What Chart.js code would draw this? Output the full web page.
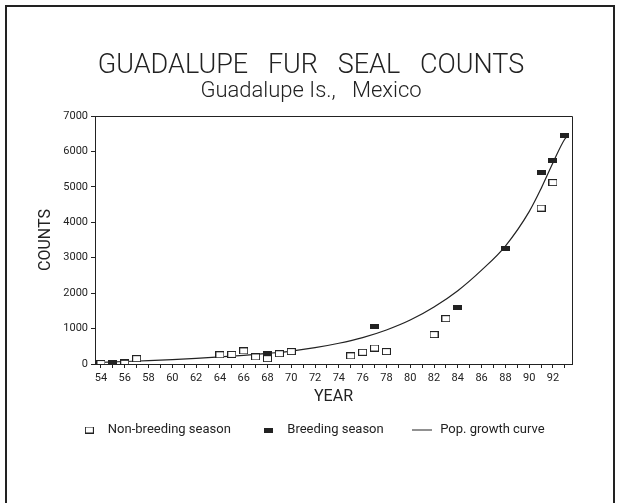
<!DOCTYPE html>
<html>
<head>
<meta charset="utf-8">
<script src="https://cdn.jsdelivr.net/npm/chart.js@4"></script>
<style>
  html, body { margin: 0; padding: 0; background: #fff; overflow: hidden; }
  #wrap { position: relative; width: 620px; height: 503px; }
  #frame { position: absolute; left: 5px; top: 5px; width: 606px; height: 520px; border: 2px solid #222; pointer-events: none; }
  canvas { position: absolute; left: 0; top: 0; }
</style>
</head>
<body>
<div id="wrap">
  <canvas id="sealChart" width="620" height="503"></canvas>
  <div id="frame"></div>
</div>
<script>
// counts
const nonBreedingYears = [54, 56, 57, 64, 65, 66, 67, 68, 69, 70, 75, 76, 77, 78, 82, 83, 91, 92];
const nonBreedingCounts = [14, 20, 150, 260, 270, 370, 200, 150, 290, 350, 230, 330, 450, 350, 830, 1280, 4400, 5120];
const breedingYears = [55, 56, 68, 77, 84, 88, 91, 92, 93];
const breedingCounts = [50, 80, 310, 1060, 1590, 3250, 5410, 5740, 6440];
const curveYears = [54, 56, 58, 60, 62, 64, 66, 68, 70, 72, 74, 76, 78, 80, 82, 84, 86, 88, 90, 91, 92, 93, 93.3];
const curveCounts = [45, 70, 95, 125, 160, 200, 245, 300, 365, 460, 585, 745, 960, 1240, 1610, 2070, 2650, 3330, 4300, 4950, 5680, 6350, 6450];
const yearTicks = [54, 55, 56, 57, 58, 59, 60, 61, 62, 63, 64, 65, 66, 67, 68, 69, 70, 71, 72, 73,
                   74, 75, 76, 77, 78, 79, 80, 81, 82, 83, 84, 85, 86, 87, 88, 89, 90, 91, 92, 93];
const countTicks = [0, 1000, 2000, 3000, 4000, 5000, 6000, 7000];

const ink = '#222';

function makeMarker(w, h, filled) {
  const c = document.createElement('canvas');
  c.width = w; c.height = h;
  const g = c.getContext('2d');
  if (filled) {
    g.fillStyle = ink; g.fillRect(0, 0, w, h);
  } else {
    g.fillStyle = '#fff'; g.fillRect(0, 0, w, h);
    g.strokeStyle = ink; g.lineWidth = 1; g.strokeRect(0.5, 0.5, w - 1, h - 1);
  }
  return c;
}
function makeLineMark(w) {
  const c = document.createElement('canvas');
  c.width = w; c.height = 3;
  const g = c.getContext('2d');
  g.fillStyle = ink; g.fillRect(0, 1, w, 1);
  return c;
}
const openBox = makeMarker(9, 7, false);
const filledBox = makeMarker(9, 5, true);
const lineMark = makeLineMark(20);

const toPoints = (xs, ys) => xs.map((x, i) => ({ x: x, y: ys[i] }));

// top and right edges of the plot box
const plotFrame = {
  id: 'plotFrame',
  afterDraw(chart) {
    const { ctx, chartArea: a } = chart;
    ctx.save();
    ctx.strokeStyle = ink;
    ctx.lineWidth = 1;
    ctx.beginPath();
    ctx.moveTo(a.left, a.top + 0.5);
    ctx.lineTo(a.right + 0.5, a.top + 0.5);
    ctx.lineTo(a.right + 0.5, a.bottom);
    ctx.stroke();
    ctx.restore();
  }
};

const font = 'Roboto';

new Chart(document.getElementById('sealChart'), {
  type: 'scatter',
  data: {
    datasets: [
      { label: 'Non-breeding season', data: toPoints(nonBreedingYears, nonBreedingCounts),
        pointStyle: openBox, pointRadius: 4 },
      { label: 'Breeding season', data: toPoints(breedingYears, breedingCounts),
        pointStyle: filledBox, pointRadius: 4 },
      { type: 'line', label: 'Pop. growth curve', data: toPoints(curveYears, curveCounts),
        borderColor: ink, borderWidth: 1.2, pointRadius: 0, pointStyle: lineMark,
        cubicInterpolationMode: 'monotone', fill: false }
    ]
  },
  options: {
    responsive: false,
    animation: false,
    layout: { padding: { left: 50, right: 48, top: 0, bottom: 56.5 } },
    plugins: {
      title: {
        display: true, text: 'GUADALUPE   FUR   SEAL   COUNTS', color: ink,
        font: { family: font, size: 27, weight: '300', lineHeight: 1 },
        padding: { top: 53, bottom: 0 }
      },
      subtitle: {
        display: true, text: 'Guadalupe Is.,   Mexico', color: ink,
        font: { family: font, size: 22, weight: '300', lineHeight: 1 },
        padding: { top: 0, bottom: 14 }
      },
      legend: {
        position: 'bottom',
        labels: { usePointStyle: true, pointStyleWidth: 24, padding: 26, color: ink,
                  font: { family: font, size: 13 } }
      },
      tooltip: { enabled: false }
    },
    scales: {
      x: {
        type: 'linear', min: 53.5, max: 93.6,
        afterBuildTicks: s => { s.ticks = yearTicks.map(v => ({ value: v })); },
        afterFit: s => { s.height = 33.5; },
        grid: { drawOnChartArea: false, tickLength: 4, color: ink },
        border: { color: ink, width: 1 },
        ticks: { autoSkip: false, maxRotation: 0, padding: 4, color: ink,
                 font: { family: font, size: 11 },
                 callback: v => (v % 2 === 0 ? String(v) : '') },
        title: { display: true, text: 'YEAR', color: ink,
                 font: { family: font, size: 16 }, padding: { top: 0, bottom: -9 } }
      },
      y: {
        min: 0, max: 7000,
        afterBuildTicks: s => { s.ticks = countTicks.map(v => ({ value: v })); },
        afterFit: s => { s.width = 45; },
        grid: { drawOnChartArea: false, tickLength: 4, color: ink },
        border: { color: ink, width: 1 },
        ticks: { padding: 3, color: ink, font: { family: font, size: 11 },
                 callback: v => String(v) },
        title: { display: true, text: 'COUNTS', color: ink,
                 font: { family: font, size: 16 }, padding: { top: -14, bottom: 0 } }
      }
    }
  },
  plugins: [plotFrame]
});
</script>
</body>
</html>
